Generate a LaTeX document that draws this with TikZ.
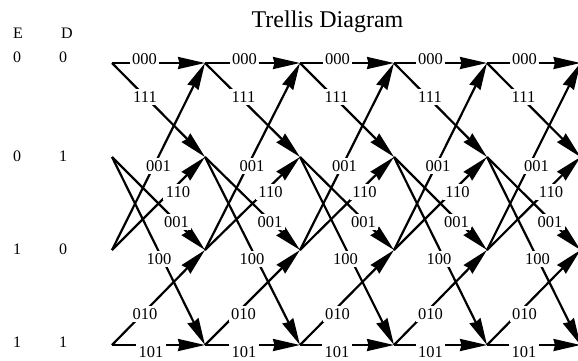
\documentclass[tikz,border=0pt]{standalone}
\usepackage{fontspec}
\setmainfont{Liberation Serif}
\usetikzlibrary{arrows.meta}
\begin{document}
\begin{tikzpicture}[x=1pt,y=-1pt,
  edge/.style={line width=2.2pt, -{Stealth[length=27pt,width=12pt,inset=1.5pt]}},
  lbl/.style={fill=white, inner xsep=2.5pt, inner ysep=2.5pt, font=\fontsize{16.5}{19}\selectfont},
  hdr/.style={inner sep=0pt, font=\fontsize{16}{19}\selectfont},
  ttl/.style={inner sep=0pt, anchor=base, font=\fontsize{24}{28}\selectfont}]
\clip (0,0) rectangle (578,360);
% trellis points
\foreach \k/\xx in {0/112,1/205,2/300,3/394,4/487,5/580.5} {
  \foreach \r/\yy in {0/63,1/157,2/250,3/345} {
    \coordinate (n\k-\r) at (\xx,\yy);
  }
}
% branches
\foreach \k [evaluate=\k as \n using int(\k+1)] in {0,...,4} {
  \draw[edge] (n\k-0) -- (n\n-0);
  \draw[edge] (n\k-0) -- (n\n-1);
  \draw[edge] (n\k-2) -- (n\n-0);
  \draw[edge] (n\k-2) -- (n\n-1);
  \draw[edge] (n\k-1) -- (n\n-2);
  \draw[edge] (n\k-1) -- (n\n-3);
  \draw[edge] (n\k-3) -- (n\n-2);
  \draw[edge] (n\k-3) -- (n\n-3);
}
% branch labels
\foreach \k/\xa/\xb/\xc/\xd/\xe/\xf/\xg/\xh in {
  0/144.5/145/158.5/178/176.5/159/145/151,
  1/244.5/243.5/252/270.5/270/252/243.5/244,
  2/337.5/336.5/344.5/364.5/363.5/345.5/337.5/337,
  3/430.5/430/438/457.5/456.5/439/430.5/430.5,
  4/524.5/523.5/536.5/551/550/537.5/524.5/524} {
  \node[lbl] (la\k) at (\xa,59.5) {000};
  \node[lbl] (lb\k) at (\xb,97) {111};
  \node[lbl] (lc\k) at (\xc,166) {001};
  \node[lbl] (ld\k) at (\xd,192) {110};
  \node[lbl] (le\k) at (\xe,222) {001};
  \node[lbl] (lf\k) at (\xf,259) {100};
  \node[lbl] (lg\k) at (\xg,314) {010};
  \node[lbl] (lh\k) at (\xh,352) {101};
}
% headers
\node[ttl] (title) at (327.5,27) {Trellis Diagram};
\node[hdr] (hE) at (18,33) {E};
\node[hdr] (hD) at (67,33) {D};
\node[hdr] (e0) at (17,57.5) {0};
\node[hdr] (d0) at (63,57.5) {0};
\node[hdr] (e1) at (17,156) {0};
\node[hdr] (d1) at (63,156) {1};
\node[hdr] (e2) at (17,249) {1};
\node[hdr] (d2) at (63,249) {0};
\node[hdr] (e3) at (17,342.5) {1};
\node[hdr] (d3) at (63,342.5) {1};
\end{tikzpicture}
\end{document}
